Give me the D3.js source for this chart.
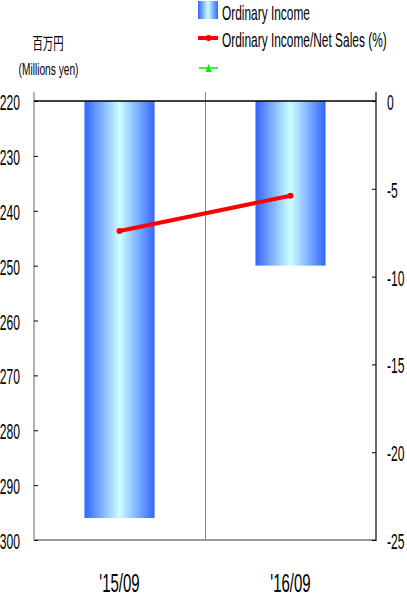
<!DOCTYPE html>
<html><head><meta charset="utf-8">
<script src="https://cdn.jsdelivr.net/npm/d3@7"></script>
<style>
body{margin:0;background:#fff;}
svg text{font-family:"Liberation Sans","Arial",sans-serif;fill:#000;}
</style></head>
<body><svg id="c" width="407" height="598"></svg>
<script>
const categories = ["'15/09", "'16/09"];
const ordinaryIncome = [-296, -250];
const ratio = [-7.4, -5.4];
const leftTicks = [-220, -230, -240, -250, -260, -270, -280, -290, -300];
const rightTicks = [0, -5, -10, -15, -20, -25];
const legendLabels = ["Ordinary Income", "Ordinary Income/Net Sales (%)", ""];

const svg = d3.select("#c");
const L = 34, R = 376, T = 101, B = 540;
const SX = 0.55;

const x = d3.scaleBand().domain(categories).range([L, R]).paddingInner(0.59).paddingOuter(0.295);
const yL = d3.scaleLinear().domain([-220, -300]).range([T, B]);
const yR = d3.scaleLinear().domain([0, -25]).range([T, B]);

const defs = svg.append("defs");
const g = defs.append("linearGradient").attr("id", "bg").attr("x1", "0").attr("x2", "1").attr("y1", "0").attr("y2", "0");
g.append("stop").attr("offset", "0").attr("stop-color", "#3366ff");
g.append("stop").attr("offset", "0.5").attr("stop-color", "#ccffff");
g.append("stop").attr("offset", "1").attr("stop-color", "#3366ff");

// bars
svg.selectAll("rect.bar").data(categories).enter().append("rect")
  .attr("x", d => x(d)).attr("width", x.bandwidth())
  .attr("y", T).attr("height", (d, i) => yL(ordinaryIncome[i]) - T)
  .attr("fill", "url(#bg)");

// frame lines
svg.append("line").attr("x1", L).attr("x2", R).attr("y1", B).attr("y2", B).attr("stroke", "#999").attr("stroke-width", 2);
svg.append("line").attr("x1", L).attr("x2", L).attr("y1", 92).attr("y2", B).attr("stroke", "#999").attr("stroke-width", 1.5);
svg.append("line").attr("x1", (L + R) / 2 + 0.5).attr("x2", (L + R) / 2 + 0.5).attr("y1", 92).attr("y2", B).attr("stroke", "#888").attr("stroke-width", 1);
svg.append("line").attr("x1", R).attr("x2", R).attr("y1", 92).attr("y2", B + 1).attr("stroke", "#000").attr("stroke-width", 1.2);
svg.append("line").attr("x1", L).attr("x2", R).attr("y1", T).attr("y2", T).attr("stroke", "#000").attr("stroke-width", 1.5);

// left axis
const la = svg.append("g").attr("transform", `translate(${L},0)`)
  .call(d3.axisRight(yL).tickValues(leftTicks).tickSize(4).tickFormat(""));
la.select(".domain").remove();
la.selectAll("line").attr("stroke", "#000");
svg.selectAll("text.lt").data(leftTicks).enter().append("text")
  .attr("text-anchor", "end")
  .attr("transform", d => `translate(20,${yL(d) + 9}) scale(${SX},1)`)
  .attr("font-size", 22)
  .text(d => "-" + Math.abs(d));

// right axis
const ra = svg.append("g").attr("transform", `translate(${R},0)`)
  .call(d3.axisLeft(yR).tickValues(rightTicks).tickSize(4).tickFormat(""));
ra.select(".domain").remove();
ra.selectAll("line").attr("stroke", "#000");
svg.selectAll("text.rt").data(rightTicks).enter().append("text")
  .attr("text-anchor", "start")
  .attr("transform", d => `translate(387,${yR(d) + 9}) scale(${SX},1)`)
  .attr("font-size", 22)
  .text(d => d === 0 ? "0" : "-" + Math.abs(d));

// x labels
svg.selectAll("text.xl").data(categories).enter().append("text")
  .attr("text-anchor", "middle")
  .attr("transform", d => `translate(${x(d) + x.bandwidth() / 2},${592}) scale(0.6,1)`)
  .attr("font-size", 25)
  .text(d => d);

// line series
const line = d3.line().x((d, i) => x(categories[i]) + x.bandwidth() / 2).y(d => yR(d));
svg.append("path").datum(ratio).attr("d", line).attr("fill", "none").attr("stroke", "#ff0000").attr("stroke-width", 4);
svg.selectAll("circle.pt").data(ratio).enter().append("circle")
  .attr("cx", (d, i) => x(categories[i]) + x.bandwidth() / 2).attr("cy", d => yR(d)).attr("r", 3).attr("fill", "#ff0000");

// unit labels
svg.append("text").attr("text-anchor", "middle").attr("transform", "translate(48,49) scale(0.65,1)").attr("font-size", 16)
  .style("font-family", "'Noto Sans CJK JP',sans-serif").text("百万円");
svg.append("text").attr("text-anchor", "middle").attr("transform", "translate(48.5,75) scale(0.6,1)").attr("font-size", 17).text("(Millions  yen)");

// legend
const lg = svg.append("g");
lg.append("rect").attr("x", 198).attr("y", 1).attr("width", 20).attr("height", 18).attr("fill", "url(#bg)");
lg.append("line").attr("x1", 198).attr("x2", 218).attr("y1", 38).attr("y2", 38).attr("stroke", "#ff0000").attr("stroke-width", 4);
lg.append("circle").attr("cx", 208.5).attr("cy", 38).attr("r", 3).attr("fill", "#ff0000");
lg.append("line").attr("x1", 199).attr("x2", 218).attr("y1", 68).attr("y2", 68).attr("stroke", "#00ee00").attr("stroke-width", 1.5);
lg.append("path").attr("d", "M208.5,64 L211.5,72 L205.5,72 Z").attr("fill", "#00ee00");
lg.selectAll("text.lg").data(legendLabels).enter().append("text")
  .attr("transform", (d, i) => `translate(222,${20 + i * 27}) scale(0.567,1)`)
  .attr("font-size", 21)
  .text(d => d);
</script></body></html>
